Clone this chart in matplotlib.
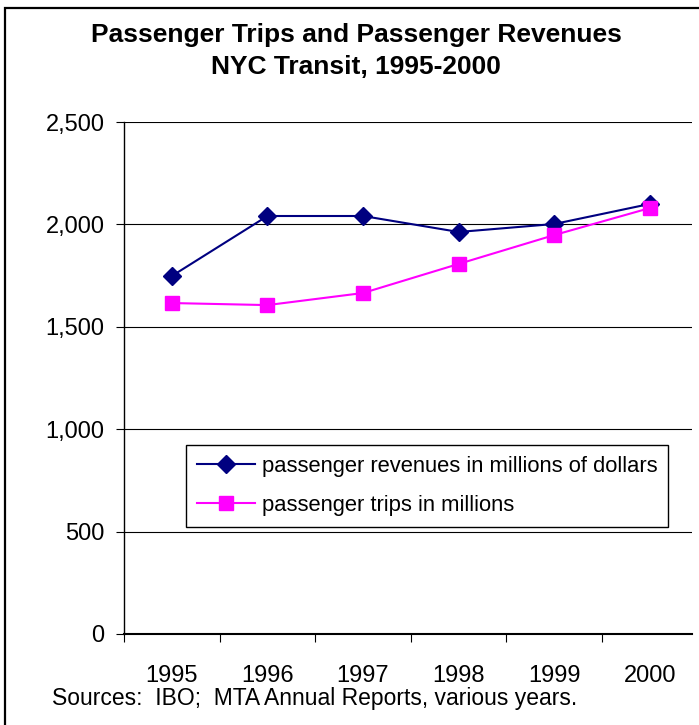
import matplotlib
matplotlib.use("Agg")
import matplotlib.pyplot as plt
from matplotlib.patches import Rectangle

years = ["1995", "1996", "1997", "1998", "1999", "2000"]
revenues = [1748, 2041, 2041, 1963, 2002, 2100]
trips = [1616, 1606, 1665, 1807, 1948, 2080]
yticks = [0, 500, 1000, 1500, 2000, 2500]
ytick_labels = ["0", "500", "1,000", "1,500", "2,000", "2,500"]

plt.rcParams['font.family'] = ['Liberation Sans', 'DejaVu Sans']

W, H = 699, 725
fig = plt.figure(figsize=(W / 100, H / 100), dpi=100)

# outer frame
fig.patches.append(Rectangle((5 / W, -0.1), 1.2, (H - 8) / H + 0.1, transform=fig.transFigure,
                             fill=False, edgecolor='black', linewidth=1.6))

left, right, top, bottom = 124, 692, 122, 634
ax = fig.add_axes([left / W, (H - bottom) / H, (right - left) / W, (bottom - top) / H])

x = list(range(len(years)))
ax.plot(x, revenues, color='#000080', marker='D', markersize=9, linewidth=1.5,
        label='passenger revenues in millions of dollars')
ax.plot(x, trips, color='#FF00FF', marker='s', markersize=10, linewidth=1.5,
        label='passenger trips in millions')

ax.set_xlim(-0.5, 5.44)
ax.set_ylim(0, 2500)
ax.set_yticks(yticks)
ax.set_yticklabels(ytick_labels, fontsize=17)
ax.set_xticks([i - 0.5 for i in range(len(years))])
ax.set_xticklabels([])
ax.set_xticks(x, minor=True)
ax.set_xticklabels(years, minor=True, fontsize=17)
ax.tick_params(axis='x', which='minor', length=0, pad=22)
ax.tick_params(axis='x', which='major', length=6, direction='out', width=0.8)
ax.tick_params(axis='y', length=6, direction='out', width=0.8, pad=8)
ax.grid(axis='y', color='black', linewidth=0.8)
ax.set_axisbelow(True)
for s in ['top', 'right']:
    ax.spines[s].set_visible(False)
ax.spines['left'].set_linewidth(1.0)
ax.spines['bottom'].set_linewidth(1.5)

leg = ax.legend(loc='upper left', bbox_to_anchor=((186 - left) / (right - left), (bottom - 445) / (bottom - top)),
                fontsize=15.8, frameon=True, fancybox=False, edgecolor='black', framealpha=1,
                handlelength=2.65, handletextpad=0.3, borderpad=0.5, labelspacing=0.8,
                borderaxespad=0)
leg.get_frame().set_linewidth(1.0)

fig.text(356 / W, 1 - 35 / H, "Passenger Trips and Passenger Revenues", ha='center', va='center',
         fontsize=19, fontweight='bold')
fig.text(356 / W, 1 - 67 / H, "NYC Transit, 1995-2000", ha='center', va='center',
         fontsize=19, fontweight='bold')
fig.text(52 / W, 1 - 698 / H, "Sources:  IBO;  MTA Annual Reports, various years.", ha='left', va='center',
         fontsize=16.5)

fig.savefig("out.png", dpi=100)
